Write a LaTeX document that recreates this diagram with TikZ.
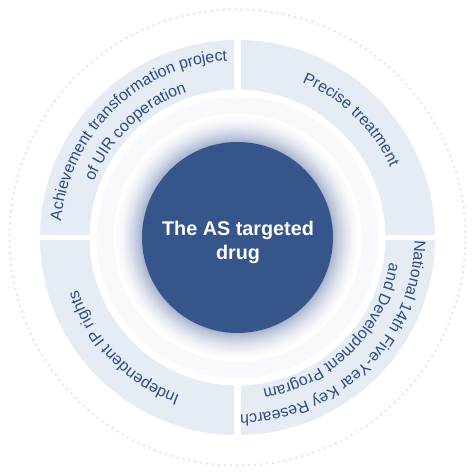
\documentclass[tikz,border=0pt]{standalone}
\usepackage{fontspec}
\setmainfont{Liberation Sans}
\usetikzlibrary{decorations.text}
\definecolor{ringfill}{HTML}{E6ECF3}
\definecolor{core}{HTML}{36558B}
\definecolor{txt}{HTML}{2E4B85}
\definecolor{glow}{HTML}{A9B3D0}
\definecolor{dotcol}{HTML}{E1E7F2}
\definecolor{halo}{HTML}{F8F9FC}
\begin{document}
\begin{tikzpicture}[x=1pt,y=1pt,
  arctext/.style={decorate, decoration={text along path, text align=center, text color=txt,
     text={|\fontsize{16}{18}\selectfont|#1}}}]
\useasboundingbox (0,0) rectangle (476,476);
\fill[white] (0,0) rectangle (476,476);
\begin{scope}[shift={(237.5,238.5)}]
  % outer dotted circle
  \draw[dotcol, line width=2.8pt, line cap=round, dash pattern=on 0pt off 6pt] (0,0) circle (228pt);
  % four ring sectors
  \foreach \sx/\sy in {1/1,-1/1,-1/-1,1/-1}{
    \begin{scope}
      \clip (3.4*\sx,3.4*\sy) rectangle (250*\sx,250*\sy);
      \fill[ringfill, even odd rule] (0,0) circle (197.5pt) (0,0) circle (148pt);
    \end{scope}
  }
  % halo and glow
  \fill[halo] (0,0) circle (141pt);
  \fill[white] (0,0) circle (124pt);
  \foreach \i in {0,...,28}{
    \pgfmathsetmacro\p{100*(\i/28)^1.7}
    \fill[glow!\p!white] (0,0) circle ({124-\i});
  }
  % core
  \node[circle, fill=core, minimum size=191pt, inner sep=0pt] (core) at (0,0) {};
  \node[text=white, font=\bfseries\fontsize{19.8}{24}\selectfont, align=center, inner sep=0pt]
     (title) at (0.5,-5) {The AS targeted\\drug};
  % curved labels
  \path[arctext={Achievement transformation project}] (194:177pt) arc[start angle=194, end angle=74, radius=177pt];
  \path[arctext={of UIR cooperation}] (194:154pt) arc[start angle=194, end angle=74, radius=154pt];
  \path[arctext={Precise treatment}] (106:168pt) arc[start angle=106, end angle=-14, radius=168pt];
  \path[arctext={National 14th Five-Year Key Research}] (15:177pt) arc[start angle=15, end angle=-105, radius=177pt];
  \path[arctext={and Development Program}] (15:154pt) arc[start angle=15, end angle=-105, radius=154pt];
  \path[arctext={Independent IP rights}] (284:168pt) arc[start angle=284, end angle=164, radius=168pt];
\end{scope}
\end{tikzpicture}
\end{document}
